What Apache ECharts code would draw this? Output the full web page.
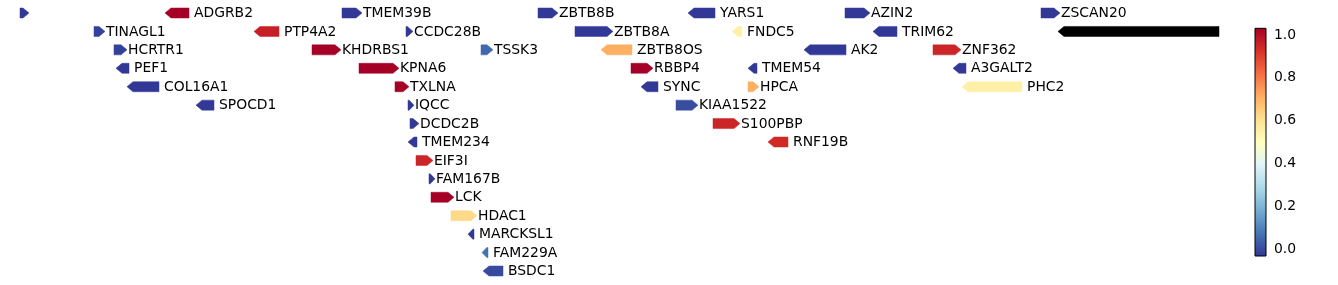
<!DOCTYPE html>
<html>
<head>
<meta charset="utf-8">
<script src="https://cdn.jsdelivr.net/npm/echarts@6/dist/echarts.min.js"></script>
<style>
html,body{margin:0;padding:0;background:#fff;}
#chart{width:1338px;height:285px;}
</style>
</head>
<body>
<div id="chart"></div>
<script>
// ---- data (positions in track units) ----
const geneNames  = ['', 'ADGRB2','TMEM39B','ZBTB8B','YARS1','AZIN2','ZSCAN20',
  'TINAGL1','PTP4A2','CCDC28B','ZBTB8A','FNDC5','TRIM62','',
  'HCRTR1','KHDRBS1','TSSK3','ZBTB8OS','AK2','ZNF362',
  'PEF1','KPNA6','RBBP4','TMEM54','A3GALT2',
  'COL16A1','TXLNA','SYNC','HPCA','PHC2',
  'SPOCD1','IQCC','KIAA1522',
  'DCDC2B','S100PBP',
  'TMEM234','RNF19B',
  'EIF3I','FAM167B','LCK','HDAC1','MARCKSL1','FAM229A','BSDC1'];
const geneStart  = [20,165,342,538,688,845,1041,
  94,254,406,575,732,873,1058,
  114,312,481,601,804,933,
  116,359,631,748,953,
  127,395,641,748,962,
  196,408,676,
  410,713,
  408,768,
  416,429,431,451,468,482,483];
const geneEnd    = [29,189,362,558,715,870,1060,
  105,279,413,613,742,897,1219,
  127,341,493,632,846,961,
  129,399,653,757,966,
  159,409,658,759,1022,
  214,414,698,
  419,740,
  417,788,
  433,435,454,477,474,488,503];
const geneStrand = [1,-1,1,1,-1,1,1,
  1,-1,1,1,-1,-1,-1,
  1,1,1,-1,-1,1,
  -1,1,1,-1,-1,
  -1,1,-1,1,-1,
  -1,1,1,
  1,1,
  -1,-1,
  1,1,1,1,-1,-1,-1];
const geneRow    = [0,0,0,0,0,0,0,
  1,1,1,1,1,1,1,
  2,2,2,2,2,2,
  3,3,3,3,3,
  4,4,4,4,4,
  5,5,5,
  6,6,
  7,7,
  8,9,10,11,12,13,14];
const geneValue  = [-0.03,1.03,-0.03,-0.03,-0.03,-0.03,-0.03,
  -0.015,0.96,-0.03,-0.03,0.55,-0.03,null,
  -0.015,1.03,0.05,0.71,-0.03,0.95,
  -0.03,1.03,1.03,-0.03,-0.03,
  -0.03,1.03,-0.03,0.71,0.55,
  -0.03,-0.03,0.005,
  -0.03,0.95,
  -0.03,0.94,
  0.95,-0.03,1.03,0.62,-0.03,0.07,0.0];
const colorbarTicks = [0.0,0.2,0.4,0.6,0.8,1.0];
const cmapColors = ['#313695','#4575b4','#74add1','#abd9e9','#e0f3f8','#ffffbf','#fee090','#fdae61','#f46d43','#d73027','#a50026'];
const vMin = -0.033, vMax = 1.031;

const FONT = '13.9px "DejaVu Sans"';
const seriesData = geneNames.map((n,i)=>[geneStart[i], geneEnd[i], geneRow[i], geneStrand[i], geneValue[i]===null?NaN:geneValue[i]]);

const chart = echarts.init(document.getElementById('chart'), null, {renderer:'canvas'});
chart.setOption({
  animation:false,
  backgroundColor:'#fff',
  grid:[
    {left:0, right:119, top:3.8, bottom:4.8, outerBoundsMode:'none'},
    {left:1255, width:11, top:28.3, height:227.7, outerBoundsMode:'none'}
  ],
  xAxis:[
    {type:'value', gridIndex:0, min:0, max:1219, show:false},
    {type:'value', gridIndex:1, min:0, max:1, show:false}
  ],
  yAxis:[
    {type:'value', gridIndex:0, min:-0.5, max:14.5, inverse:true, show:false},
    {type:'value', gridIndex:1, min:vMin, max:vMax, position:'right',
     axisLine:{show:false}, splitLine:{show:false},
     axisTick:{show:true, length:5, customValues:colorbarTicks, lineStyle:{color:'#000', width:1}},
     axisLabel:{show:true, customValues:colorbarTicks, margin:8, color:'#000', fontFamily:'DejaVu Sans', fontSize:13.9,
       formatter:(v)=>Number(v).toFixed(1)}}
  ],
  visualMap:{show:false, type:'continuous', min:vMin, max:vMax, dimension:4, seriesIndex:0,
    inRange:{color:cmapColors}},
  series:[
    {type:'custom', xAxisIndex:0, yAxisIndex:0, data:seriesData, clip:false,
     renderItem:function(params, api){
       const i = params.dataIndex;
       const s = api.value(0), e = api.value(1), row = api.value(2), strand = api.value(3);
       const p0 = api.coord([s,row]), p1 = api.coord([e,row]);
       const x0 = p0[0], x1 = p1[0], y = p0[1];
       const h = 10, len = x1 - x0;
       const head = Math.min(6, len*0.8);
       let pts;
       if (strand > 0) {
         pts = [[x0,y-h/2],[x1-head,y-h/2],[x1,y],[x1-head,y+h/2],[x0,y+h/2]];
       } else {
         pts = [[x1,y-h/2],[x0+head,y-h/2],[x0,y],[x0+head,y+h/2],[x1,y+h/2]];
       }
       const col = geneValue[i]===null ? '#000000' : api.visual('color');
       const children = [{type:'polygon', shape:{points:pts}, style:{fill:col, stroke:col, lineWidth:0.5}}];
       if (geneNames[i]) {
         children.push({type:'text', style:{text:geneNames[i], x: x1 + (strand>0?1:5), y:y+0.5,
           verticalAlign:'middle', align:'left', font:FONT, fill:'#000'}});
       }
       return {type:'group', children:children};
     }},
    {type:'custom', xAxisIndex:1, yAxisIndex:1, data:[[0]], clip:false, silent:true,
     renderItem:function(params, api){
       const a = api.coord([0, vMax]), b = api.coord([1, vMin]);
       const stops = cmapColors.slice().reverse().map((c,k)=>({offset:k/(cmapColors.length-1), color:c}));
       return {type:'rect', shape:{x:a[0], y:a[1], width:b[0]-a[0], height:b[1]-a[1]},
         style:{fill:new echarts.graphic.LinearGradient(0,0,0,1,stops), stroke:'#000', lineWidth:1}};
     }}
  ]
});
</script>
</body>
</html>
